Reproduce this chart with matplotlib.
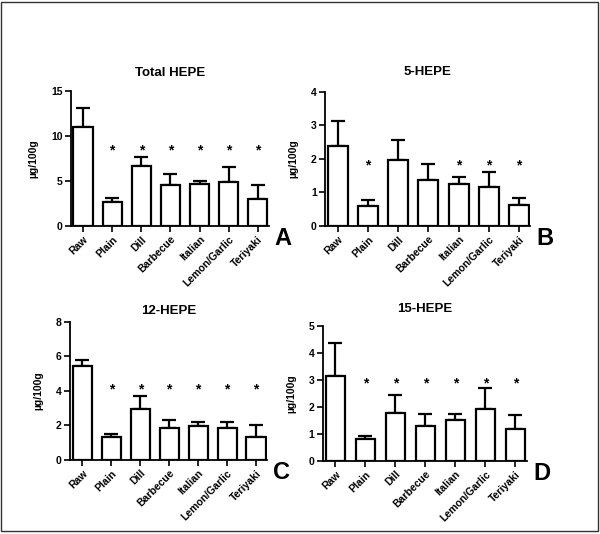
import matplotlib
matplotlib.use("Agg")
import matplotlib.pyplot as plt
from matplotlib.patches import Rectangle
import numpy as np

plt.rcParams['font.family'] = ['Liberation Sans', 'DejaVu Sans']
plt.rcParams['font.weight'] = 'bold'

categories = ["Raw", "Plain", "Dill", "Barbecue", "Italian", "Lemon/Garlic", "Teriyaki"]

total_mean = [11.0, 2.7, 6.7, 4.5, 4.7, 4.9, 3.0]
total_err = [2.1, 0.4, 1.0, 1.3, 0.3, 1.6, 1.5]
total_sig = [False, True, True, True, True, True, True]

hepe5_mean = [2.37, 0.60, 1.96, 1.38, 1.26, 1.15, 0.62]
hepe5_err = [0.76, 0.18, 0.60, 0.46, 0.20, 0.47, 0.22]
hepe5_sig = [False, True, False, False, True, True, True]

hepe12_mean = [5.45, 1.30, 2.92, 1.87, 1.98, 1.83, 1.32]
hepe12_err = [0.35, 0.22, 0.78, 0.46, 0.22, 0.37, 0.70]
hepe12_sig = [False, True, True, True, True, True, True]

hepe15_mean = [3.15, 0.79, 1.78, 1.28, 1.51, 1.91, 1.16]
hepe15_err = [1.20, 0.14, 0.65, 0.47, 0.22, 0.77, 0.53]
hepe15_sig = [False, True, True, True, True, True, True]

panels = [
    ("Total HEPE", total_mean, total_err, total_sig, 15, [0, 5, 10, 15], 8.4, "A",
     [0.118, 0.577, 0.330, 0.253], 11),
    ("5-HEPE", hepe5_mean, hepe5_err, hepe5_sig, 4, [0, 1, 2, 3, 4], 1.8, "B",
     [0.542, 0.577, 0.342, 0.251], 12),
    ("12-HEPE", hepe12_mean, hepe12_err, hepe12_sig, 8, [0, 2, 4, 6, 8], 4.1, "C",
     [0.117, 0.139, 0.328, 0.258], 6),
    ("15-HEPE", hepe15_mean, hepe15_err, hepe15_sig, 5, [0, 1, 2, 3, 4, 5], 2.88, "D",
     [0.538, 0.137, 0.340, 0.253], 10),
]

fig = plt.figure(figsize=(6.0, 5.34), dpi=100)
fig.patches.append(Rectangle((0.002, 0.005), 0.994, 0.992, transform=fig.transFigure,
                             fill=False, edgecolor='#333333', linewidth=1.0))

x = np.arange(len(categories))
for title, mean, err, sig, ymax, yticks, star_y, letter, rect, tpad in panels:
    ax = fig.add_axes(rect)
    ax.bar(x, mean, width=0.66, color='white', edgecolor='black', linewidth=1.6, zorder=2)
    ax.errorbar(x, mean, yerr=[np.zeros(len(err)), err], fmt='none', ecolor='black',
                elinewidth=1.6, capsize=5, capthick=1.6, zorder=1)
    for i, s in enumerate(sig):
        if s:
            ax.text(x[i], star_y, "*", ha='center', va='center', fontsize=10, fontweight='bold')
    ax.set_xlim(-0.42, 6.38)
    ax.set_ylim(0, ymax)
    ax.set_yticks(yticks)
    ax.set_xticks(x)
    ax.set_xticklabels(categories, rotation=45, ha='right', rotation_mode='anchor',
                       fontsize=7.5, fontweight='bold')
    for lab in ax.get_yticklabels():
        lab.set_fontsize(7.5)
        lab.set_fontweight('bold')
    ax.spines['top'].set_visible(False)
    ax.spines['right'].set_visible(False)
    ax.spines['left'].set_linewidth(1.3)
    ax.spines['bottom'].set_linewidth(1.3)
    ax.tick_params(axis='both', direction='out', length=4, width=1.2, pad=2)
    ax.set_ylabel("µg/100g", fontsize=7.5, fontweight='bold', labelpad=9)
    ax.set_title(title, fontsize=9.5, fontweight='bold', pad=tpad)
    ax.text(1.03, -0.01, letter, transform=ax.transAxes, ha='left', va='top',
            fontsize=17, fontweight='bold')

fig.savefig("out.png", dpi=100)
